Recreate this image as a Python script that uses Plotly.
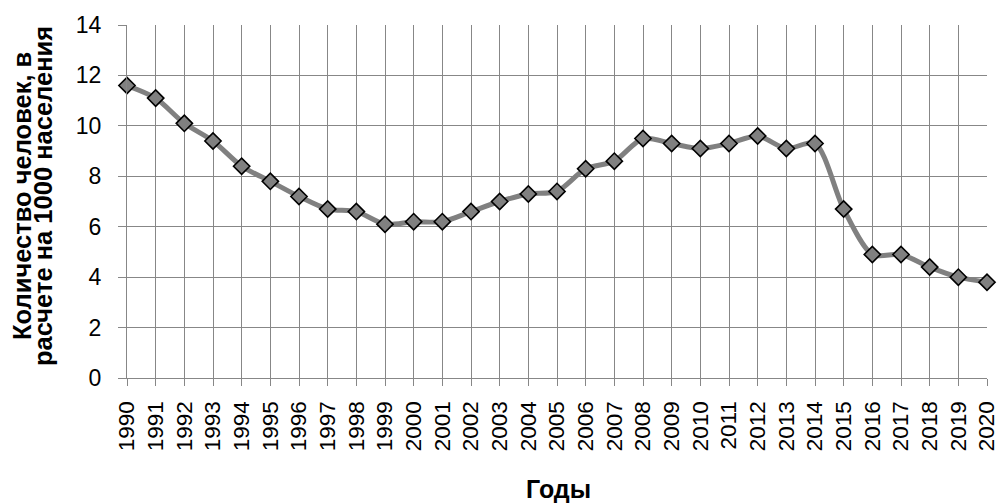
import plotly.graph_objects as go

years = list(range(1990, 2021))
year_labels = [str(y) for y in years]
values = [11.6, 11.1, 10.1, 9.4, 8.4, 7.8, 7.2, 6.7, 6.6, 6.1, 6.2, 6.2, 6.6, 7.0, 7.3, 7.4,
          8.3, 8.6, 9.5, 9.3, 9.1, 9.3, 9.6, 9.1, 9.3, 6.7, 4.9, 4.9, 4.4, 4.0, 3.8]
y_ticks = [0, 2, 4, 6, 8, 10, 12, 14]
y_title_lines = ["Количество человек, в", "расчете на 1000 населения"]
x_title = "Годы"

FONT = "Liberation Sans, Arial, sans-serif"
GRID = "#878787"
R_MARGIN = 14

fig = go.Figure()
fig.add_trace(go.Scatter(
    x=years, y=values, mode="lines+markers",
    line=dict(color="#808080", width=5, shape="spline", smoothing=0.8),
    marker=dict(symbol="diamond", size=12.5, color="#808080",
                line=dict(color="#000000", width=1.6)),
    cliponaxis=False, showlegend=False,
))

fig.update_layout(
    width=1001, height=504,
    margin=dict(l=127, r=R_MARGIN, t=25, b=126, autoexpand=False),
    paper_bgcolor="white", plot_bgcolor="white",
    font=dict(family=FONT, size=23, color="#000000"),
    xaxis=dict(
        range=[1990, 2020], tickmode="array", tickvals=years, ticktext=year_labels,
        tickangle=-90, showgrid=True, gridcolor=GRID, gridwidth=1.3,
        showline=True, linecolor=GRID, linewidth=1.3,
        ticks="outside", ticklen=7, tickcolor=GRID, tickwidth=1.3,
        ticklabelstandoff=6, ticklabeloverflow="allow", zeroline=False,
        automargin=False,
        tickfont=dict(family=FONT, size=22.5, color="#000000"),
    ),
    yaxis=dict(
        range=[0, 14], tickmode="array", tickvals=y_ticks,
        showgrid=True, gridcolor=GRID, gridwidth=1.3,
        showline=True, linecolor=GRID, linewidth=1.3,
        ticks="outside", ticklen=8, tickcolor=GRID, tickwidth=1.3,
        ticklabelstandoff=12, ticklabeloverflow="allow", zeroline=False,
        automargin=False,
        tickfont=dict(family=FONT, size=23, color="#000000"),
    ),
)

pw = 1001 - 127 - R_MARGIN
ph = 504 - 25 - 126
def px_to_paper_x(px):
    return (px - 127) / pw
def px_to_paper_y(py):
    return (504 - 126 - py) / ph

for cx, line in zip([22, 43], y_title_lines):
    fig.add_annotation(
        text="<b>" + line + "</b>", xref="paper", yref="paper",
        x=px_to_paper_x(cx), y=px_to_paper_y(196), xanchor="center", yanchor="middle",
        textangle=-90, showarrow=False,
        font=dict(family=FONT, size=25.5, color="#000000"),
    )

fig.add_annotation(
    text="<b>" + x_title + "</b>", xref="paper", yref="paper",
    x=px_to_paper_x(558), y=px_to_paper_y(489), xanchor="center", yanchor="middle",
    showarrow=False, font=dict(family=FONT, size=25, color="#000000"),
)

fig.write_html(
    "out.html",
    config={"displayModeBar": False},
    post_script="document.body.style.margin='0';document.body.style.overflow='hidden';",
)
